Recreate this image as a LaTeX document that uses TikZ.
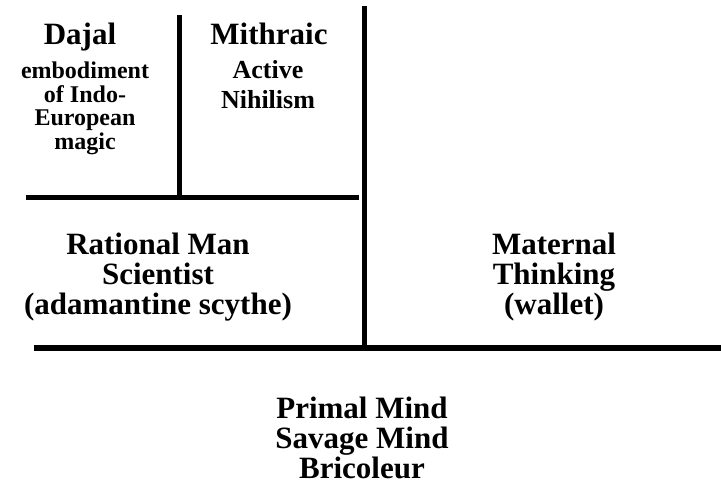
\documentclass[tikz,border=0pt]{standalone}
\usepackage{fontspec}
\setmainfont{Liberation Serif}
\begin{document}
\begin{tikzpicture}[x=1pt, y=-1pt,
    hd/.style={inner sep=0pt, anchor=base, font=\fontsize{31}{31}\selectfont\bfseries},
    sm/.style={inner sep=0pt, align=center, anchor=north, font=\fontsize{24}{23.5}\selectfont\bfseries},
    md/.style={inner sep=0pt, align=center, anchor=north, font=\fontsize{26}{30}\selectfont\bfseries},
    big/.style={inner sep=0pt, align=center, font=\fontsize{31}{30}\selectfont\bfseries},
    bar/.style={line width=5pt}
  ]
  \useasboundingbox (0,0) rectangle (721,487);

  % frame lines
  \coordinate (smtop) at (179.5,15);
  \coordinate (smbot) at (179.5,197.5);
  \coordinate (upl) at (26,197.5);
  \coordinate (upr) at (359,197.5);
  \coordinate (mtop) at (364.5,6);
  \coordinate (mbot) at (364.5,348);
  \coordinate (lowl) at (34,348);
  \coordinate (lowr) at (721,348);
  \draw[bar] (smtop) -- (smbot);
  \draw[bar] (upl) -- (upr);
  \draw[bar] (mtop) -- (mbot);
  \draw[line width=6pt] (lowl) -- (lowr);

  % upper quadrants
  \node[hd] (dajal) at (80,45) {Dajal};
  \node[sm] (magic) at (85,62) {embodiment\\of Indo-\\European\\magic};
  \node[hd] (mithraic) at (269,45) {Mithraic};
  \node[md] (nihilism) at (268,60.5) {Active\\Nihilism};

  % middle row
  \node[big] (rational) at (158,277) {Rational Man\\Scientist\\(adamantine scythe)};
  \node[big] (maternal) at (554,277) {Maternal\\Thinking\\(wallet)};

  % bottom
  \node[big] (primal) at (362,437.5) {Primal Mind\\Savage Mind\\Bricoleur};
\end{tikzpicture}
\end{document}
